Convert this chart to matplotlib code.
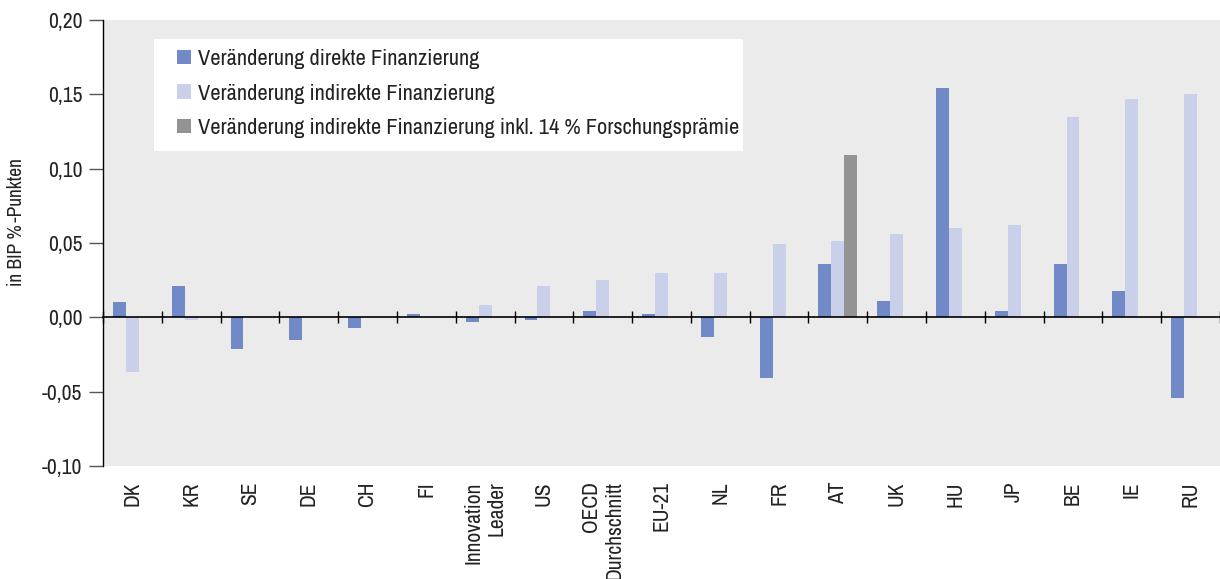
import numpy as np
import matplotlib
matplotlib.use('Agg')
import matplotlib.pyplot as plt
from matplotlib.patches import Rectangle
from matplotlib.ticker import FuncFormatter

plt.rcParams['font.family'] = ['Archivo Narrow', 'DejaVu Sans']

categories = ['DK', 'KR', 'SE', 'DE', 'CH', 'FI', 'Innovation\nLeader', 'US',
              'OECD\nDurchschnitt', 'EU-21', 'NL', 'FR', 'AT', 'UK', 'HU', 'JP',
              'BE', 'IE', 'RU']
direkt = [0.010, 0.021, -0.021, -0.015, -0.007, 0.002, -0.003, -0.002, 0.004,
          0.002, -0.013, -0.041, 0.036, 0.011, 0.154, 0.004, 0.036, 0.018, -0.054]
indirekt = [-0.037, -0.002, 0.0, 0.0, 0.0, 0.0, 0.008, 0.021, 0.025, 0.030,
            0.030, 0.049, 0.051, 0.056, 0.060, 0.062, 0.135, 0.147, 0.150]
praemie = [0, 0, 0, 0, 0, 0, 0, 0, 0, 0, 0, 0, 0.109, 0, 0, 0, 0, 0, 0]

labels = ['Veränderung direkte Finanzierung',
          'Veränderung indirekte Finanzierung',
          'Veränderung indirekte Finanzierung inkl. 14 % Forschungsprämie']

c_dir = '#7189c6'
c_ind = '#cbd0ea'
c_pr = '#939393'

fig = plt.figure(figsize=(12.2, 5.79), dpi=100)
ax = fig.add_axes([0.0844, 0.1952, 0.9156, 0.7703])
ax.set_facecolor('#ebebeb')

x = np.arange(len(categories))
w = 0.22
ax.bar(x - w, direkt, w, color=c_dir, label=labels[0], zorder=2)
ax.bar(x, indirekt, w, color=c_ind, label=labels[1], zorder=2)
pr = np.array(praemie)
mask = pr != 0
ax.bar(x[mask] + w, pr[mask], w, color=c_pr, label=labels[2], zorder=2)

ax.set_xlim(-0.5, len(categories) - 0.5)
ax.set_ylim(-0.10, 0.20)
ax.set_yticks(np.arange(-0.10, 0.201, 0.05))
ax.yaxis.set_major_formatter(FuncFormatter(lambda v, p: f'{v:.2f}'.replace('.', ',')))
ax.tick_params(axis='y', length=10, width=1, color='#555555', labelsize=15.5,
               labelcolor='#222222', pad=5)
ax.set_ylabel('in BIP %\u2009-Punkten', fontsize=14, color='#222222')
ax.yaxis.set_label_coords(-0.069, 0.547)

for s in ['top', 'right']:
    ax.spines[s].set_visible(False)
ax.spines['left'].set_linewidth(1)
ax.spines['bottom'].set_position(('data', 0))
ax.spines['bottom'].set_linewidth(1.2)
ax.spines['bottom'].set_zorder(3)
ax.set_xticks(x)
ax.tick_params(axis='x', which='major', length=0, labelbottom=False)
ax.set_xticks(np.arange(len(categories) + 1) - 0.5, minor=True)
ax.tick_params(axis='x', which='minor', direction='inout', length=8, width=1)

sec = ax.secondary_xaxis(0)
sec.set_xticks(x)
sec.set_xticklabels(categories, rotation=90, fontsize=15.5, va='top', ha='center',
                    multialignment='right', color='#222222')
sec.tick_params(length=0, pad=11)
sec.spines['bottom'].set_visible(False)

# white legend panel
ax.add_patch(Rectangle((0.0457, 0.7063), 0.5273, 0.2511, transform=ax.transAxes,
                       facecolor='white', edgecolor='none', zorder=4))
leg = ax.legend(loc='upper left', bbox_to_anchor=(0.0662, 0.935), fontsize=16.1,
                frameon=False, borderaxespad=0, borderpad=0, handlelength=0.63,
                handleheight=0.63, handletextpad=0.33, labelspacing=0.65)
leg.set_zorder(5)
for t in leg.get_texts():
    t.set_color('#222222')

fig.savefig('out.png', dpi=100)
